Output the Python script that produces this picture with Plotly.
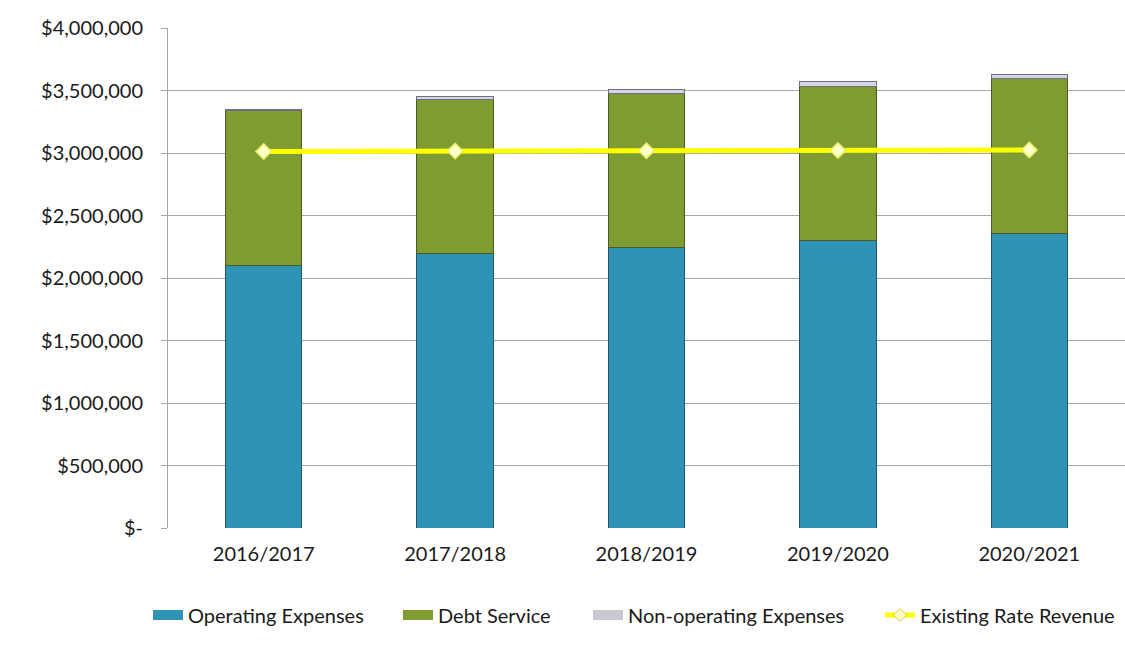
import plotly.graph_objects as go

categories = ["2016/2017", "2017/2018", "2018/2019", "2019/2020", "2020/2021"]
operating_expenses = [2104000, 2200000, 2248000, 2304000, 2360000]
debt_service = [1240000, 1230000, 1232000, 1226000, 1240000]
non_operating = [8000, 26000, 32000, 40000, 32000]
existing_rate_revenue = [3012000, 3016000, 3018000, 3020000, 3024000]

y_tickvals = [0, 500000, 1000000, 1500000, 2000000, 2500000, 3000000, 3500000, 4000000]
y_ticktext = ["$-", "$500,000", "$1,000,000", "$1,500,000", "$2,000,000",
              "$2,500,000", "$3,000,000", "$3,500,000", "$4,000,000"]

FONT = "Lato"
FS = 20
colors = {"op": "#2F93B6", "debt": "#7F9C33", "nonop": "#D6D6E2"}

fig = go.Figure()
fig.add_trace(go.Bar(
    x=categories, y=operating_expenses, name="Operating Expenses", showlegend=False,
    marker=dict(color=colors["op"], line=dict(color="#245468", width=1)),
))
fig.add_trace(go.Bar(
    x=categories, y=debt_service, name="Debt Service", showlegend=False,
    marker=dict(color=colors["debt"], line=dict(color="#4B5A25", width=1)),
))
fig.add_trace(go.Bar(
    x=categories, y=non_operating, name="Non-operating Expenses", showlegend=False,
    marker=dict(color=colors["nonop"], line=dict(color="#6E6E86", width=1)),
))
fig.add_trace(go.Scatter(
    x=categories, y=existing_rate_revenue, name="Existing Rate Revenue",
    mode="lines+markers", showlegend=False,
    line=dict(color="#FFFF00", width=5),
    marker=dict(symbol="diamond", size=12, color="#FFFFC8",
                line=dict(color="#E8F060", width=1.5)),
))

# legend-only entries (wide bar-like swatches), each in its own legend box
legend_ids = ["legend", "legend2", "legend3", "legend4"]
for name, col, lid in [("Operating Expenses", colors["op"], "legend"),
                       ("Debt Service", colors["debt"], "legend2"),
                       ("Non-operating Expenses", "#C8C8D0", "legend3")]:
    fig.add_trace(go.Scatter(x=[None], y=[None], name=name, mode="lines",
                             line=dict(color=col, width=10), showlegend=True,
                             legend=lid))
fig.add_trace(go.Scatter(
    x=[None], y=[None], name="Existing Rate Revenue", mode="lines+markers",
    line=dict(color="#FFFF00", width=5), legend="legend4",
    marker=dict(symbol="diamond", size=10, color="#FFFFC8",
                line=dict(color="#C8D040", width=1)),
))

text_starts = [190, 440, 630, 922]
legend_common = dict(orientation="h", xref="container", yref="container",
                     xanchor="left", yanchor="middle", y=1 - 615 / 653,
                     font=dict(family=FONT, size=FS, color="#1a1a1a"),
                     itemwidth=30, bgcolor="rgba(0,0,0,0)")
legends = {lid: dict(legend_common, x=(ts - 42) / 1125)
           for lid, ts in zip(legend_ids, text_starts)}

fig.update_layout(
    barmode="stack",
    bargap=0.6,
    width=1125, height=653,
    margin=dict(l=168, r=0, t=28, b=125),
    paper_bgcolor="white", plot_bgcolor="white",
    font=dict(family=FONT, size=FS, color="#1a1a1a"),
    showlegend=True,
    xaxis=dict(showgrid=False, showline=False, ticks="", tickfont=dict(size=FS),
               ticklabelstandoff=12),
    yaxis=dict(range=[0, 4000000], tickvals=y_tickvals, ticktext=y_ticktext,
               showgrid=True, gridcolor="#A6A6A6", gridwidth=1,
               showline=True, linecolor="#A6A6A6", linewidth=1,
               ticks="outside", ticklen=6, tickcolor="#A6A6A6",
               ticklabelstandoff=14, zeroline=False, tickfont=dict(size=FS)),
    **legends,
)

fig.write_html("out.html")
